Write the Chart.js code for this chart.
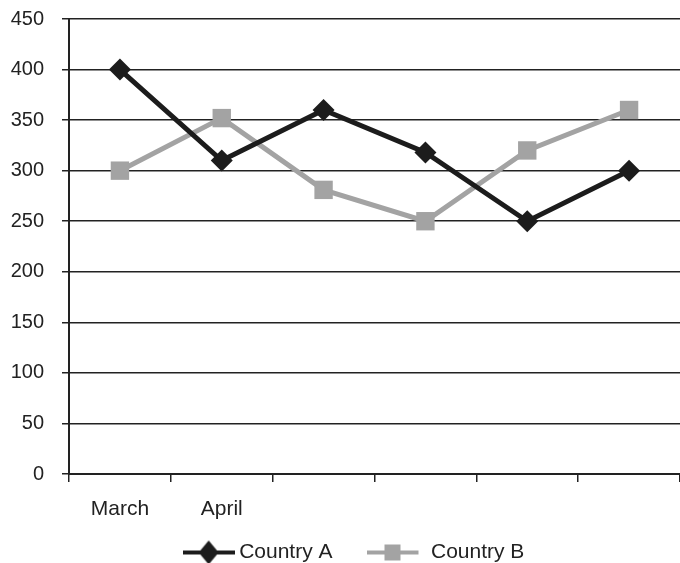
<!DOCTYPE html>
<html>
<head>
<meta charset="utf-8">
<script src="https://cdn.jsdelivr.net/npm/chart.js@4/dist/chart.umd.min.js"></script>
<style>
  html,body{margin:0;padding:0;background:#fff;}
  #wrap{width:680px;height:563px;}
</style>
</head>
<body>
<div id="wrap"><canvas id="c" width="680" height="563"></canvas></div>
<script>
const months = ['March', 'April', '', '', '', ''];
const countryA = [400, 310, 360, 318, 250, 300];
const countryB = [300, 352, 281, 250, 320, 360];
const yTicks = [0, 450, 50]; // min, max, step

const colA = '#1c1c1c', colB = '#a3a3a3';
const fntY = { family: 'Liberation Sans', size: 20 };
const fnt = { family: 'Liberation Sans', size: 21 };

// legend swatch: line with the marker in the middle
// (extra = empty room on the right, pushes the swatch away from its text)
function swatch(color, shape, extra){
    const cv = document.createElement('canvas');
    cv.width = 52 + extra; cv.height = 26;
    const g = cv.getContext('2d');
    g.fillStyle = color;
    g.fillRect(0, 11, 52, 4);
    g.beginPath();
    if(shape === 'diamond'){
        g.moveTo(26, 1); g.lineTo(36, 13); g.lineTo(26, 25); g.lineTo(16, 13);
    } else {
        g.rect(18, 5, 16, 16);
    }
    g.closePath();
    g.fill();
    return cv;
}

const fixLayout = {
    id: 'fixLayout',
    afterLayout(chart){
        // nudge legend to the right
        if(chart.legend && chart.legend.lineWidths) chart.legend.lineWidths[0] -= 32;
        // let x labels draw below the (shortened) axis box
        chart.scales.x.bottom = chart.scales.x.top + 55;
    }
};

const ctx = document.getElementById('c').getContext('2d');
new Chart(ctx, {
    type: 'line',
    data: {
        labels: months,
        datasets: [{
            label: 'Country A',
            data: countryA,
            borderColor: colA,
            backgroundColor: colA,
            borderWidth: 5,
            pointStyle: 'rectRot',
            pointRadius: 11,
            pointBackgroundColor: colA,
            pointBorderWidth: 0,
            tension: 0
        }, {
            label: 'Country B',
            data: countryB,
            borderColor: colB,
            backgroundColor: colB,
            borderWidth: 5,
            pointStyle: 'rect',
            pointRadius: 13,
            pointBackgroundColor: colB,
            pointBorderWidth: 0,
            tension: 0
        }]
    },
    plugins: [fixLayout],
    options: {
        responsive: false,
        animation: false,
        layout: { autoPadding: false, padding: { top: 0, left: 1, right: 0, bottom: -10 } },
        scales: {
            x: {
                offset: true,
                grid: { offset: true, drawOnChartArea: false, color: '#222', lineWidth: 1.5, tickLength: 8 },
                border: { color: '#222', width: 2 },
                ticks: { color: '#222', font: fnt, padding: 15, autoSkip: false, maxRotation: 0 },
                afterFit(s){ s.height = 20; }
            },
            y: {
                min: yTicks[0], max: yTicks[1],
                grid: { color: '#222', lineWidth: 1.5, tickLength: 7 },
                border: { color: '#222', width: 2 },
                ticks: { stepSize: yTicks[2], color: '#222', font: fntY, padding: 18 },
                afterFit(s){ s.paddingTop = 19; s.width = 68; }
            }
        },
        plugins: {
            legend: {
                position: 'bottom',
                labels: {
                    color: '#222',
                    font: fnt,
                    usePointStyle: true,
                    pointStyleWidth: 40,
                    padding: 48,
                    generateLabels(chart){
                        return chart.data.datasets.map((ds, i) => ({
                            text: ds.label,
                            pointStyle: i === 0 ? swatch(ds.borderColor, 'diamond', 0) : swatch(ds.borderColor, 'square', 16),
                            fillStyle: ds.borderColor,
                            strokeStyle: ds.borderColor,
                            lineWidth: 0,
                            fontColor: '#222',
                            hidden: false,
                            datasetIndex: i
                        }));
                    }
                }
            },
            tooltip: { enabled: false }
        }
    }
});
</script>
</body>
</html>
